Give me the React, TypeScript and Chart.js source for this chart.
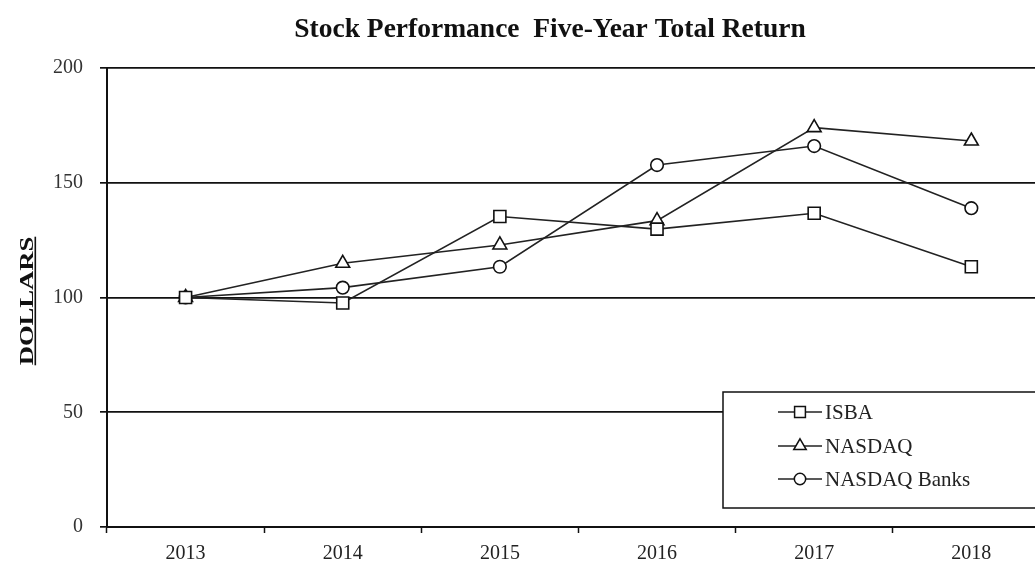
import React, { useEffect, useRef } from 'react';
import { Chart, registerables } from 'chart.js';

Chart.register(...registerables);

const years = ['2013', '2014', '2015', '2016', '2017', '2018'];
const isba = [100, 97.6, 135.3, 129.8, 136.7, 113.4];
const nasdaq = [100, 114.9, 122.9, 133.5, 174.0, 168.2];
const nasdaqBanks = [100, 104.3, 113.4, 157.7, 166.0, 138.9];
const seriesNames = ['ISBA', 'NASDAQ', 'NASDAQ Banks'];
const seriesStyles = ['rect', 'triangle', 'circle'];
const seriesRadius = [8.5, 8, 6.3];
const yMin = 0;
const yMax = 200;
const yStep = 50;
const titleText = 'Stock Performance  Five-Year Total Return';
const yTitleText = 'DOLLARS';

const SERIF = "'Liberation Serif', 'Times New Roman', serif";

function drawMarker(ctx: CanvasRenderingContext2D, style: string, x: number, y: number, r: number) {
  ctx.beginPath();
  if (style === 'rect') {
    const s = Math.SQRT1_2 * r;
    ctx.rect(x - s, y - s, 2 * s, 2 * s);
  } else if (style === 'triangle') {
    for (let i = 0; i < 3; i++) {
      const a = (i * 2 * Math.PI) / 3;
      const px = x + Math.sin(a) * r;
      const py = y - Math.cos(a) * r;
      if (i === 0) ctx.moveTo(px, py);
      else ctx.lineTo(px, py);
    }
    ctx.closePath();
  } else {
    ctx.arc(x, y, r, 0, Math.PI * 2);
  }
  ctx.fillStyle = '#fff';
  ctx.fill();
  ctx.lineWidth = 1.5;
  ctx.strokeStyle = '#111';
  ctx.stroke();
}

const decorPlugin = {
  id: 'decor',
  afterDraw(chart: any) {
    const ctx: CanvasRenderingContext2D = chart.ctx;
    // Title
    ctx.save();
    ctx.fillStyle = '#111';
    ctx.font = `bold 27.5px ${SERIF}`;
    ctx.textAlign = 'center';
    ctx.textBaseline = 'alphabetic';
    ctx.fillText(titleText, 550, 37);
    ctx.restore();

    // Y axis title (rotated, stretched, underlined)
    ctx.save();
    ctx.translate(33, 301);
    ctx.rotate(-Math.PI / 2);
    ctx.scale(1.4, 1);
    ctx.font = `bold 19px ${SERIF}`;
    ctx.fillStyle = '#111';
    ctx.textAlign = 'center';
    ctx.textBaseline = 'alphabetic';
    ctx.fillText(yTitleText, 0, 0);
    const w = ctx.measureText(yTitleText).width;
    ctx.fillRect(-w / 2, 1.5, w, 1.6);
    ctx.restore();

    // Legend box
    ctx.save();
    const bx = 723, by = 392, bw = 340, bh = 116;
    ctx.fillStyle = '#fff';
    ctx.fillRect(bx, by, bw, bh);
    ctx.lineWidth = 1.5;
    ctx.strokeStyle = '#111';
    ctx.strokeRect(bx, by, bw, bh);
    const rowsY = [412, 446, 479];
    seriesNames.forEach((name, i) => {
      const y = rowsY[i];
      ctx.beginPath();
      ctx.moveTo(778, y);
      ctx.lineTo(822, y);
      ctx.lineWidth = 1.5;
      ctx.strokeStyle = '#222';
      ctx.stroke();
      drawMarker(ctx, seriesStyles[i], 800, y, seriesRadius[i] * 0.9);
      ctx.fillStyle = '#222';
      ctx.font = `21px ${SERIF}`;
      ctx.textAlign = 'left';
      ctx.textBaseline = 'middle';
      ctx.fillText(name, 825, y + 1);
    });
    ctx.restore();
  },
};

export default function App() {
  const canvasRef = useRef<HTMLCanvasElement | null>(null);

  useEffect(() => {
    if (!canvasRef.current) return;
    const allData = [isba, nasdaq, nasdaqBanks];
    const chart = new Chart(canvasRef.current, {
      type: 'line',
      data: {
        labels: years,
        datasets: seriesNames.map((name, i) => ({
          label: name,
          data: allData[i],
          borderColor: '#222',
          borderWidth: 1.6,
          pointStyle: seriesStyles[i] as any,
          pointRadius: seriesRadius[i],
          pointBackgroundColor: '#fff',
          pointBorderColor: '#111',
          pointBorderWidth: 1.6,
          tension: 0,
          fill: false,
          clip: false as any,
        })),
      },
      options: {
        animation: false,
        responsive: false,
        devicePixelRatio: 1,
        events: [],
        layout: { padding: { top: 68, left: 0, right: 7, bottom: 0 } },
        plugins: {
          legend: { display: false },
          title: { display: false },
          tooltip: { enabled: false },
        },
        scales: {
          x: {
            type: 'category',
            offset: true,
            afterFit: (scale: any) => {
              scale.height = 39;
            },
            grid: {
              offset: true,
              drawOnChartArea: false,
              drawTicks: true,
              tickLength: 6,
              tickColor: '#111',
              tickWidth: 1.5,
            },
            border: { display: true, color: '#111', width: 2 },
            ticks: {
              color: '#222',
              padding: 9,
              maxRotation: 0,
              font: { family: SERIF, size: 20 },
            },
          },
          y: {
            type: 'linear',
            min: yMin,
            max: yMax,
            afterFit: (scale: any) => {
              scale.width = 107;
            },
            grid: {
              color: '#111',
              lineWidth: 1.7,
              tickLength: 7,
              tickColor: '#111',
              drawTicks: true,
            },
            border: { display: true, color: '#111', width: 2 },
            ticks: {
              stepSize: yStep,
              color: '#333',
              padding: 17,
              font: { family: SERIF, size: 20 },
            },
          },
        },
      },
      plugins: [decorPlugin],
    });
    return () => chart.destroy();
  }, []);

  return (
    <div
      style={{
        position: 'fixed',
        left: 0,
        top: 0,
        width: 1035,
        height: 566,
        overflow: 'hidden',
        background: '#fff',
      }}
    >
      <canvas
        ref={canvasRef}
        width={1060}
        height={566}
        style={{ display: 'block', width: 1060, height: 566 }}
      />
    </div>
  );
}
